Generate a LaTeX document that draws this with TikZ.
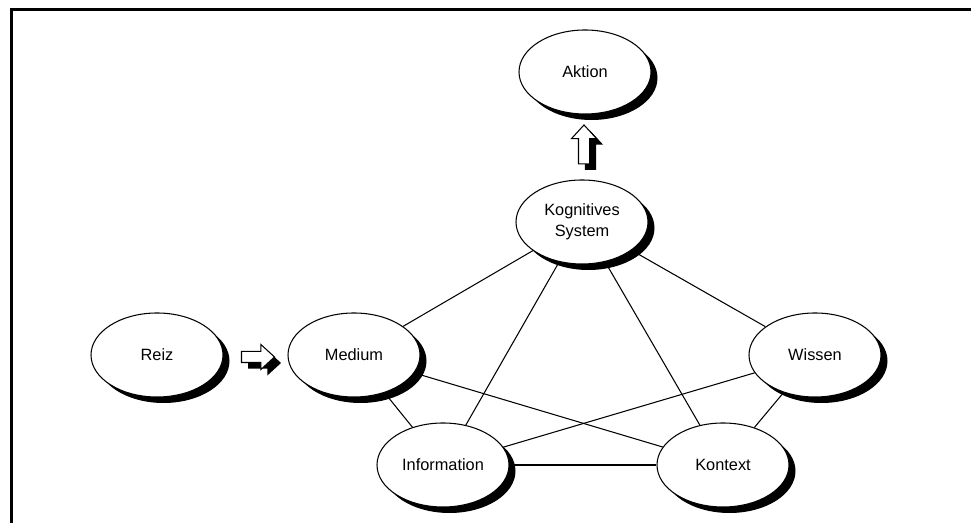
\documentclass[tikz,border=0pt]{standalone}
\usepackage{fontspec}
\setmainfont{Liberation Sans}
\usetikzlibrary{shapes.geometric,shapes.arrows,shadows,backgrounds}

\tikzset{
  blackshadow/.style={drop shadow={shadow xshift=0.13cm, shadow yshift=-0.12cm, fill=black, opacity=1}},
  blob/.style={ellipse, draw, line width=0.6pt, fill=white, blackshadow,
    minimum width=2.64cm, minimum height=1.68cm, inner sep=0pt, align=center,
    font=\fontsize{9.3}{12}\selectfont},
  fatarrow/.style={single arrow, draw, line width=0.6pt, fill=white, blackshadow,
    inner sep=0.1cm, single arrow head extend=0.14cm, single arrow tip angle=85},
  link/.style={line width=0.6pt}
}

\begin{document}
\begin{tikzpicture}
	\useasboundingbox (0,0) rectangle (19.42,10.46);
	%frame
	\draw[line width=1.2pt] (0.23,0) -- (0.23,10.27) -- (19.42,10.27);

	%ellipses
	\node[blob] (aktion) at (11.7,9.02) {Aktion};
	\node[blob] (kogsys) at (11.64,6.02) {Kognitives\\System};
	\node[blob] (reiz) at (3.14,3.36) {Reiz};
	\node[blob] (medium) at (7.08,3.36) {Medium};
	\node[blob] (wissen) at (16.3,3.36) {Wissen};
	\node[blob] (info) at (8.86,1.16) {Information};
	\node[blob] (kontext) at (14.46,1.16) {Kontext};

	%block arrows
	\node[fatarrow, minimum height=0.66cm] (reizpfeil) at (5.1,3.32) {};
	\node[fatarrow, minimum height=0.78cm, shape border rotate=90] (aktionpfeil) at (11.68,7.51) {};

	%links
	\begin{scope}[on background layer]
		\draw[link] (kogsys) -- (medium);
		\draw[link] (kogsys) -- (info);
		\draw[link] (kogsys) -- (kontext);
		\draw[link] (kogsys) -- (wissen);
		\draw[link] (medium) -- (info);
		\draw[link] (medium) -- (kontext);
		\draw[link] (wissen) -- (info);
		\draw[link] (wissen) -- (kontext);
		\draw[link] (info) -- (kontext);
	\end{scope}
\end{tikzpicture}
\end{document}
